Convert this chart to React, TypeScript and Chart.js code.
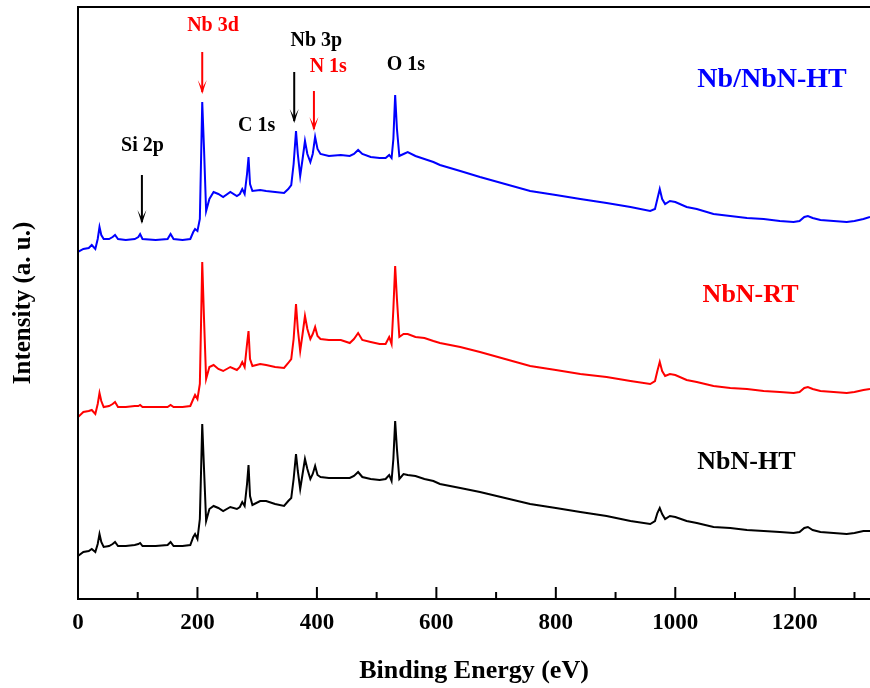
import React, { useEffect, useRef } from 'react';
import { Chart, registerables } from 'chart.js';

Chart.register(...registerables);

// Binding energy (eV)
const energy = [
  0, 9, 18, 23, 29, 33, 36, 39, 43, 52, 58, 62, 67, 80, 95, 101, 104, 108, 130, 150,
  155, 160, 175, 188, 193, 196, 200, 204, 208, 211, 214.5, 220, 227, 235, 243, 255, 266, 271, 275, 279,
  283, 285.5, 288, 292, 305, 315, 330, 345, 352, 357, 361, 365, 368, 372, 376, 380, 384, 389, 393, 397,
  401, 406, 420, 440, 455, 462, 469, 476, 490, 505, 515, 521, 525, 528, 531, 534, 538, 545, 552, 565,
  580, 595, 606, 640, 673, 715, 757, 800, 841, 885, 925, 958, 966, 970, 974, 978, 983, 991, 1000, 1019,
  1036, 1064, 1092, 1120, 1148, 1175, 1198, 1208, 1216, 1222, 1230, 1243, 1265, 1287, 1300, 1315, 1326,
];

// Intensity (a. u.), offset spectra
const nbNbnHT = [
  347, 350, 351, 354, 350, 360, 372, 364, 360, 360, 362, 364, 360, 359, 360, 362, 365, 360, 359, 360,
  365, 360, 359, 360, 367, 370, 368, 380, 497, 450, 388, 400, 407, 405, 402, 407, 403, 405, 410, 405,
  425, 442, 415, 408, 409, 408, 407, 406, 410, 414, 435, 468, 445, 423, 440, 458, 445, 437, 445, 462,
  450, 445, 443, 444, 443, 445, 449, 445, 442, 441, 441, 444, 441, 460, 504, 470, 443, 445, 447, 443,
  440, 437, 434, 428, 422, 415, 408, 404, 400, 396, 392, 388, 390, 400, 410, 400, 395, 398, 397, 392,
  390, 385, 383, 381, 380, 378, 377, 378, 382, 383, 381, 379, 378, 377, 378, 380, 382,
];

const nbnRT = [
  182, 187, 188, 189, 185, 195, 206, 198, 192, 193, 195, 197, 192, 192, 193, 193, 194, 192, 192, 192,
  194, 192, 192, 193, 200, 204, 200, 215, 337, 280, 220, 232, 234, 230, 228, 232, 229, 232, 237, 232,
  255, 268, 240, 233, 235, 234, 232, 231, 236, 240, 260, 295, 270, 248, 265, 283, 270, 260, 265, 272,
  263, 260, 259, 259, 256, 260, 266, 259, 257, 255, 255, 262, 255, 290, 333, 300, 262, 265, 265, 262,
  261, 258, 256, 252, 247, 240, 233, 229, 225, 222, 218, 215, 218, 228, 237, 228, 223, 225, 224, 219,
  217, 213, 211, 210, 208, 207, 206, 207, 211, 212, 210, 208, 207, 206, 207, 209, 210,
];

const nbnHT = [
  43, 47, 48, 50, 47, 55, 65, 57, 52, 53, 55, 57, 53, 53, 54, 55, 56, 53, 53, 54,
  57, 53, 53, 54, 62, 65, 60, 80, 175, 130, 78, 90, 93, 91, 88, 92, 90, 92, 97, 93,
  115, 134, 103, 94, 98, 98, 95, 93, 98, 101, 120, 145, 128, 110, 125, 140, 130, 120, 125, 133,
  124, 122, 121, 121, 121, 123, 127, 122, 120, 119, 120, 124, 118, 140, 178, 150, 120, 125, 124, 123,
  120, 118, 115, 111, 107, 101, 95, 91, 87, 83, 78, 75, 78, 86, 91, 85, 80, 83, 82, 78,
  76, 72, 71, 69, 68, 67, 66, 67, 71, 72, 69, 67, 66, 65, 66, 68, 68,
];

const xMin = 0;
const xMax = 1326;
const yMin = 0;
const yMax = 592;
const majorStep = 200;
const minorStep = 100;

const peakLabels = [
  { text: 'Nb 3d', x: 226, y: 573, color: '#ff0000' },
  { text: 'Nb 3p', x: 399, y: 558, color: '#000000' },
  { text: 'N 1s', x: 419, y: 532, color: '#ff0000' },
  { text: 'O 1s', x: 549, y: 534, color: '#000000' },
  { text: 'C 1s', x: 299, y: 473, color: '#000000' },
  { text: 'Si 2p', x: 108, y: 453, color: '#000000' },
];

const sampleLabels = [
  { text: 'Nb/NbN-HT', x: 1162, y: 519, color: '#0000ff', size: 28 },
  { text: 'NbN-RT', x: 1126, y: 304, color: '#ff0000', size: 26 },
  { text: 'NbN-HT', x: 1119, y: 137, color: '#000000', size: 26 },
];

const arrows = [
  { x: 107, from: 424, to: 375, color: '#000000' },
  { x: 208, from: 547, to: 505, color: '#ff0000' },
  { x: 362, from: 527, to: 476, color: '#000000' },
  { x: 395, from: 508, to: 468, color: '#ff0000' },
];

const FONT = "'Liberation Serif', 'Times New Roman', serif";

const overlayPlugin = {
  id: 'overlay',
  afterDatasetsDraw(chart: any) {
    const { ctx, chartArea: a } = chart;
    const xs = chart.scales.x;
    const ys = chart.scales.y;
    ctx.save();
    // frame
    ctx.strokeStyle = '#000';
    ctx.lineWidth = 2;
    ctx.beginPath();
    ctx.moveTo(a.left, a.bottom + 1);
    ctx.lineTo(a.left, a.top);
    ctx.lineTo(a.right, a.top);
    ctx.moveTo(a.left - 1, a.bottom);
    ctx.lineTo(a.right, a.bottom);
    ctx.stroke();
    // inward ticks
    ctx.beginPath();
    for (let v = xMin; v <= xMax; v += minorStep) {
      const px = xs.getPixelForValue(v);
      const len = v % majorStep === 0 ? 12 : 7;
      ctx.moveTo(px, a.bottom);
      ctx.lineTo(px, a.bottom - len);
    }
    ctx.stroke();
    // arrows
    arrows.forEach((ar) => {
      const px = xs.getPixelForValue(ar.x);
      const y1 = ys.getPixelForValue(ar.from);
      const y2 = ys.getPixelForValue(ar.to);
      ctx.strokeStyle = ar.color;
      ctx.fillStyle = ar.color;
      ctx.lineWidth = 2;
      ctx.beginPath();
      ctx.moveTo(px, y1);
      ctx.lineTo(px, y2 - 2);
      ctx.stroke();
      ctx.beginPath();
      ctx.moveTo(px - 4.5, y2 - 14);
      ctx.lineTo(px, y2);
      ctx.lineTo(px + 4.5, y2 - 14);
      ctx.lineTo(px, y2 - 6);
      ctx.closePath();
      ctx.fill();
    });
    // peak labels
    ctx.textAlign = 'center';
    ctx.textBaseline = 'middle';
    peakLabels.forEach((l) => {
      ctx.font = `bold 20px ${FONT}`;
      ctx.fillStyle = l.color;
      ctx.fillText(l.text, xs.getPixelForValue(l.x), ys.getPixelForValue(l.y));
    });
    sampleLabels.forEach((l) => {
      ctx.font = `bold ${l.size}px ${FONT}`;
      ctx.fillStyle = l.color;
      ctx.fillText(l.text, xs.getPixelForValue(l.x), ys.getPixelForValue(l.y));
    });
    ctx.restore();
  },
};

const toPoints = (vals: number[]) => energy.map((e, i) => ({ x: e, y: vals[i] }));

export default function App() {
  const ref = useRef<HTMLCanvasElement | null>(null);

  useEffect(() => {
    document.body.style.margin = '0';
    document.body.style.background = '#ffffff';
    const canvas = ref.current;
    if (!canvas) return;
    const chart = new Chart(canvas, {
      type: 'line',
      data: {
        datasets: [
          { label: 'Nb/NbN-HT', data: toPoints(nbNbnHT), borderColor: '#0000ff', borderWidth: 2, pointRadius: 0, tension: 0 },
          { label: 'NbN-RT', data: toPoints(nbnRT), borderColor: '#ff0000', borderWidth: 2, pointRadius: 0, tension: 0 },
          { label: 'NbN-HT', data: toPoints(nbnHT), borderColor: '#000000', borderWidth: 2, pointRadius: 0, tension: 0 },
        ],
      },
      options: {
        responsive: false,
        animation: false,
        devicePixelRatio: 1,
        layout: { padding: { top: 7, right: 0, bottom: 0, left: 0 } },
        plugins: { legend: { display: false }, tooltip: { enabled: false } },
        scales: {
          x: {
            type: 'linear',
            min: xMin,
            max: xMax,
            grid: { display: false, drawTicks: false },
            border: { display: false },
            afterFit: (s: any) => { s.height = 89; },
            ticks: {
              stepSize: majorStep,
              includeBounds: false,
              padding: 10,
              color: '#000',
              font: { family: FONT, size: 23, weight: 'bold' },
              maxRotation: 0,
              callback: (v: any) => String(v),
            },
            title: {
              display: true,
              text: 'Binding Energy (eV)',
              color: '#000',
              font: { family: FONT, size: 26, weight: 'bold' },
              padding: { top: 0, bottom: 1 },
            },
          },
          y: {
            type: 'linear',
            min: yMin,
            max: yMax,
            grid: { display: false, drawTicks: false },
            border: { display: false },
            afterFit: (s: any) => { s.width = 78; },
            ticks: { display: false },
            title: {
              display: true,
              text: 'Intensity (a. u.)',
              color: '#000',
              font: { family: FONT, size: 25, weight: 'bold' },
              padding: { top: 9, bottom: 0 },
            },
          },
        },
      },
      plugins: [overlayPlugin],
    } as any);
    return () => chart.destroy();
  }, []);

  return (
    <div style={{ width: 870, height: 688, background: '#fff' }}>
      <canvas ref={ref} width={870} height={688} style={{ display: 'block' }} />
    </div>
  );
}
